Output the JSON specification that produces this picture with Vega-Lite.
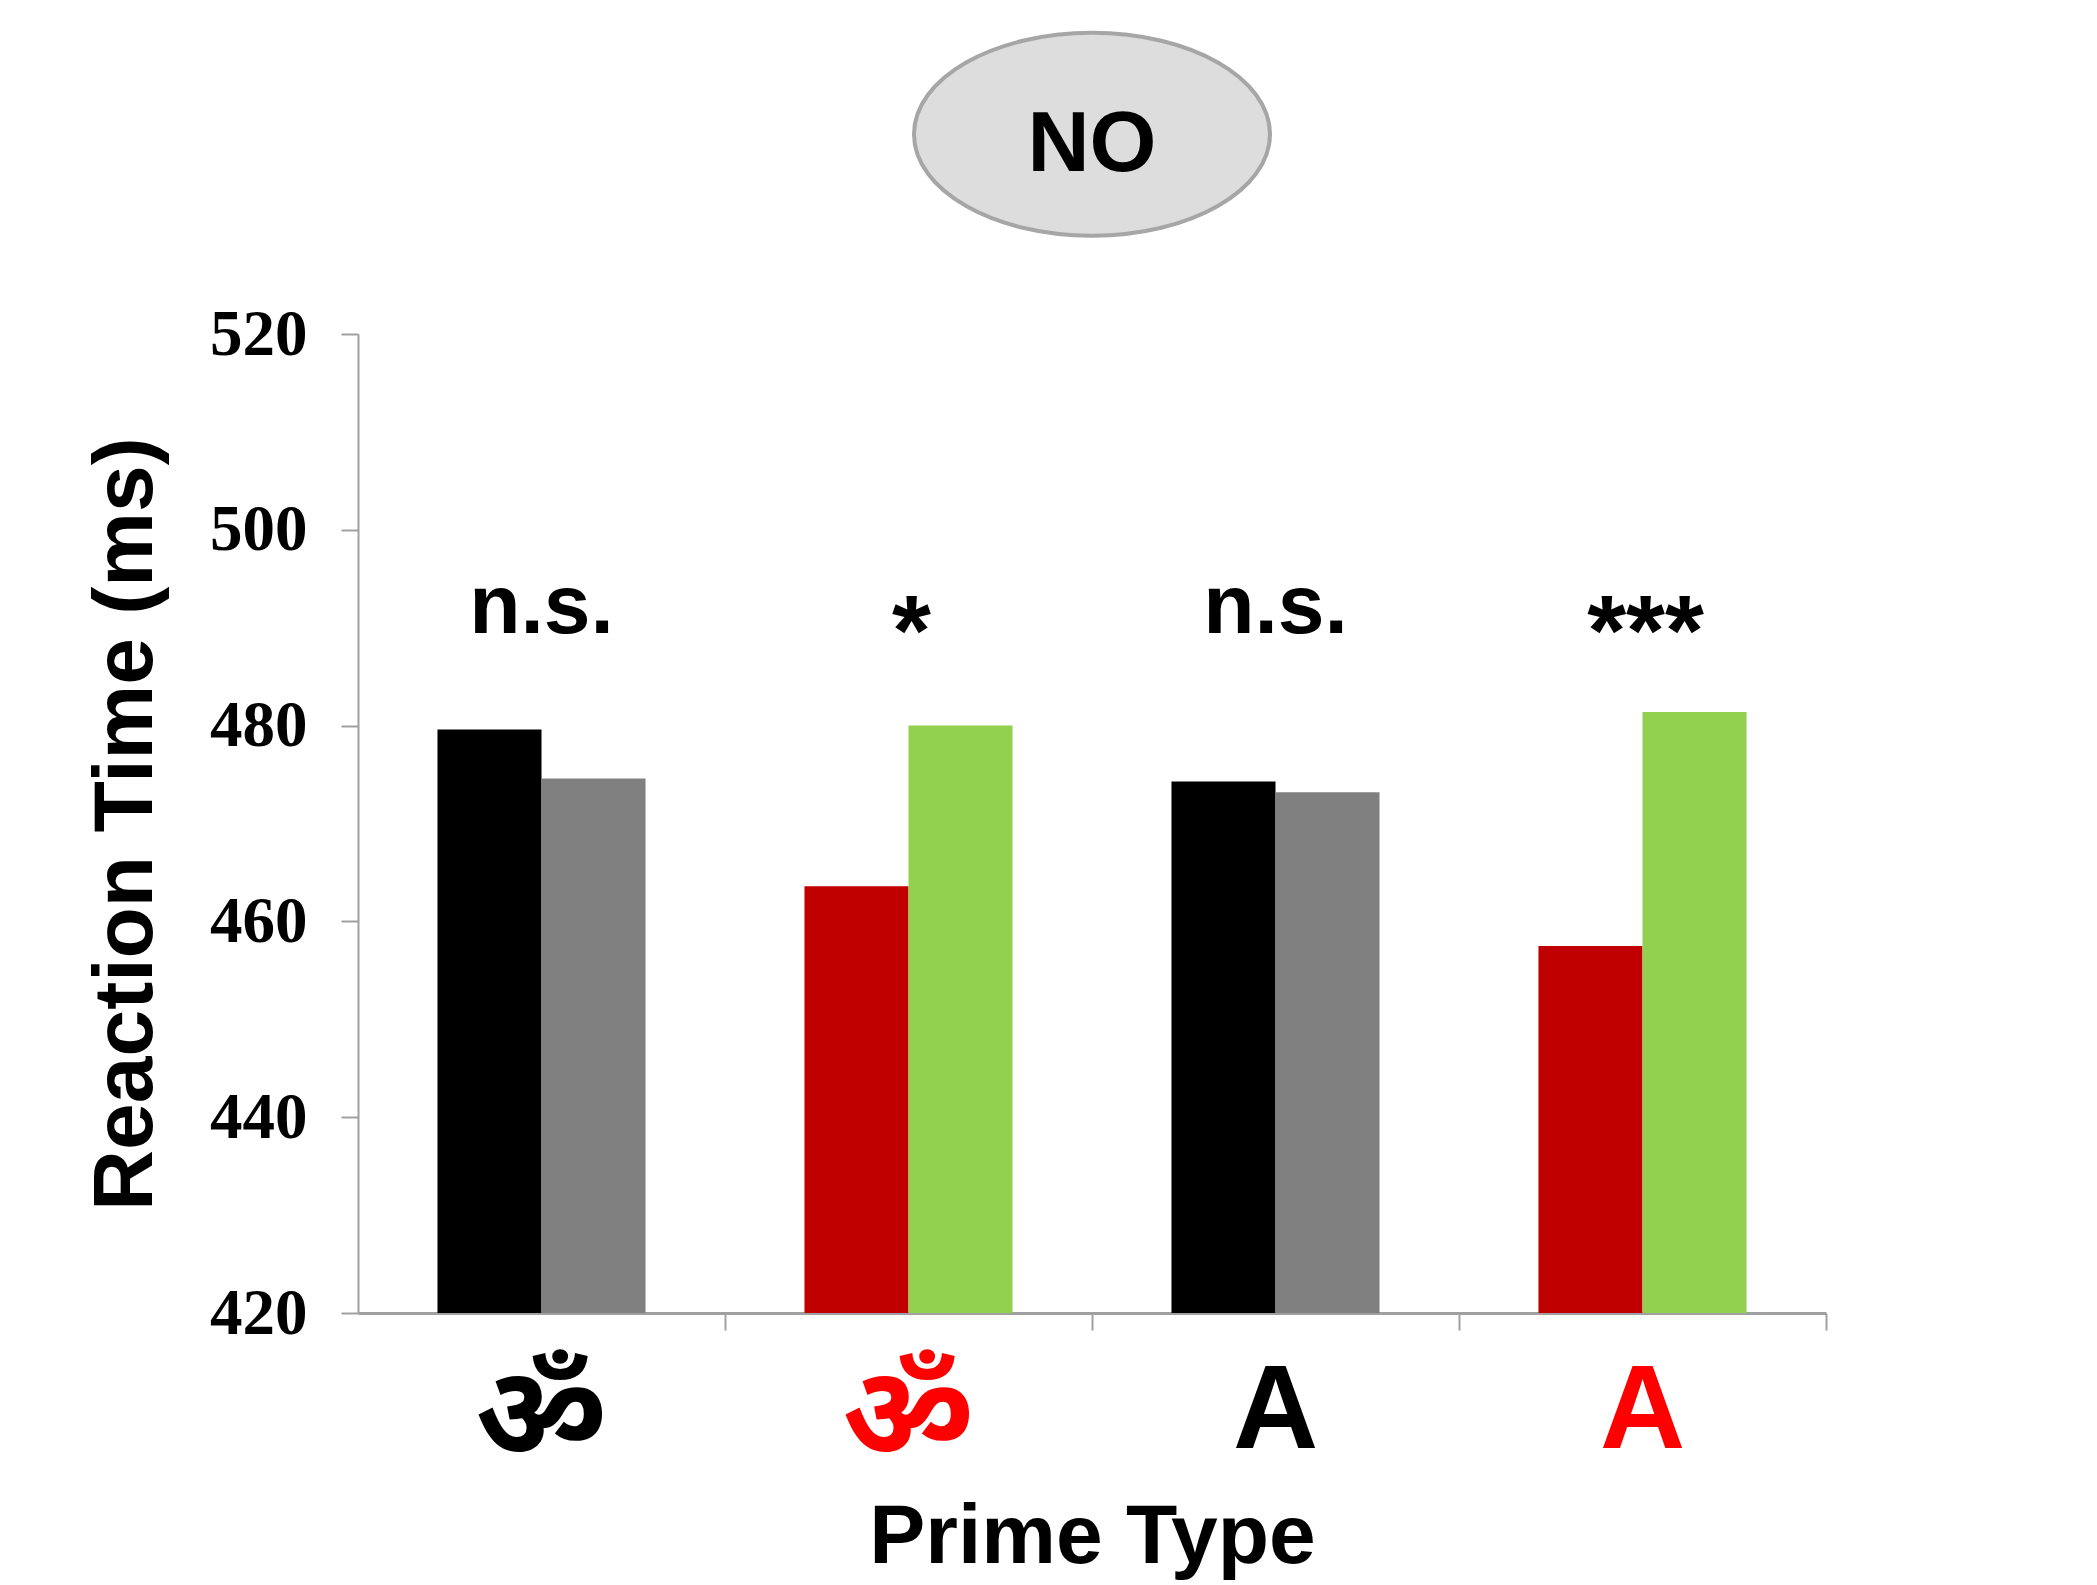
{
  "$schema": "https://vega.github.io/schema/vega-lite/v6.json",
  "autosize": "none",
  "width": 1468,
  "height": 979,
  "padding": {"left": 358, "top": 334, "right": 271, "bottom": 272},
  "background": "white",
  "config": {"view": {"stroke": null}},
  "datasets": {
    "bars": [
      {"prime": "Om black", "bar": "1", "series": "Black 1", "rt": 479.6},
      {"prime": "Om black", "bar": "2", "series": "Black 2", "rt": 474.6},
      {"prime": "Om red", "bar": "1", "series": "Red 1", "rt": 463.6},
      {"prime": "Om red", "bar": "2", "series": "Red 2", "rt": 480.0},
      {"prime": "A black", "bar": "1", "series": "Black 1", "rt": 474.3},
      {"prime": "A black", "bar": "2", "series": "Black 2", "rt": 473.2},
      {"prime": "A red", "bar": "1", "series": "Red 1", "rt": 457.5},
      {"prime": "A red", "bar": "2", "series": "Red 2", "rt": 481.4}
    ],
    "sig": [
      {"prime": "Om black", "sig": "n.s."},
      {"prime": "Om red", "sig": "*"},
      {"prime": "A black", "sig": "n.s."},
      {"prime": "A red", "sig": "***"}
    ],
    "badge": [{"label": "NO"}]
  },
  "layer": [
    {
      "data": {"name": "bars"},
      "mark": {"type": "bar"},
      "encoding": {
        "x": {
          "field": "prime", "type": "nominal",
          "sort": ["Om black", "Om red", "A black", "A red"],
          "scale": {"paddingInner": 0, "paddingOuter": 0},
          "axis": {
            "title": "Prime Type",
            "titleFont": "Liberation Sans", "titleFontSize": 84, "titleFontWeight": "bold", "titleColor": "#000000", "titlePadding": 13,
            "labelAngle": 0,
            "labelExpr": "indexof(datum.value, 'Om') == 0 ? '\u0950' : 'A'",
            "labelFont": "Liberation Sans, Noto Sans Devanagari, Noto Sans, DejaVu Sans",
            "labelFontSize": {"condition": {"test": "indexof(datum.value, 'Om') == 0", "value": 130}, "value": 118},
            "labelFontWeight": "bold",
            "labelColor": {"condition": {"test": "indexof(datum.value, 'red') >= 0", "value": "#FF0000"}, "value": "#000000"},
            "labelPadding": 24,
            "bandPosition": 1,
            "domainColor": "#A0A0A0", "domainWidth": 3,
            "tickColor": "#A0A0A0", "tickWidth": 2, "tickSize": 17,
            "grid": false
          }
        },
        "xOffset": {"field": "bar", "type": "nominal", "scale": {"paddingInner": 0, "paddingOuter": 0.764}},
        "y": {
          "field": "rt", "type": "quantitative",
          "scale": {"domain": [420, 520], "zero": false, "nice": false},
          "axis": {
            "title": "Reaction Time (ms)",
            "titleFont": "Liberation Sans", "titleFontSize": 84, "titleFontWeight": "bold", "titleColor": "#000000", "titlePadding": 40,
            "values": [420, 440, 460, 480, 500, 520],
            "labelFont": "Liberation Serif", "labelFontSize": 65, "labelFontWeight": "bold", "labelColor": "#000000",
            "labelPadding": 34,
            "domainColor": "#A0A0A0", "domainWidth": 2,
            "tickColor": "#A0A0A0", "tickWidth": 2, "tickSize": 17,
            "grid": false
          }
        },
        "y2": {"datum": 420},
        "color": {
          "field": "series", "type": "nominal",
          "scale": {"domain": ["Black 1", "Black 2", "Red 1", "Red 2"], "range": ["#000000", "#808080", "#C00000", "#92D050"]},
          "legend": null
        }
      }
    },
    {
      "data": {"name": "sig"},
      "transform": [{"filter": "datum.sig == 'n.s.'"}],
      "mark": {"type": "text", "font": "Liberation Sans", "fontSize": 84, "fontWeight": "bold", "baseline": "alphabetic", "align": "center", "color": "#000000"},
      "encoding": {
        "x": {"field": "prime", "type": "nominal", "sort": ["Om black", "Om red", "A black", "A red"]},
        "y": {"datum": 489.5, "type": "quantitative"},
        "text": {"field": "sig"}
      }
    },
    {
      "data": {"name": "sig"},
      "transform": [{"filter": "datum.sig != 'n.s.'"}],
      "mark": {"type": "text", "font": "Liberation Sans", "fontSize": 100, "fontWeight": "bold", "baseline": "alphabetic", "align": "center", "color": "#000000", "dy": 32, "dx": 3},
      "encoding": {
        "x": {"field": "prime", "type": "nominal", "sort": ["Om black", "Om red", "A black", "A red"]},
        "y": {"datum": 489.5, "type": "quantitative"},
        "text": {"field": "sig"}
      }
    },
    {
      "data": {"name": "badge"},
      "mark": {"type": "point", "shape": "M -1 0 A 1 0.57 0 1 0 1 0 A 1 0.57 0 1 0 -1 0 Z", "size": 126736, "filled": true, "fill": "#DDDDDD", "stroke": "#A6A6A6", "strokeWidth": 4, "opacity": 1, "fillOpacity": 1, "dx": -4},
      "encoding": {
        "y": {"datum": 540.4, "type": "quantitative"}
      }
    },
    {
      "data": {"name": "badge"},
      "mark": {"type": "text", "font": "Liberation Sans", "fontSize": 86, "fontWeight": "bold", "baseline": "middle", "align": "center", "color": "#000000", "dy": 11},
      "encoding": {
        "y": {"datum": 540.4, "type": "quantitative"},
        "text": {"field": "label"}
      }
    }
  ]
}
